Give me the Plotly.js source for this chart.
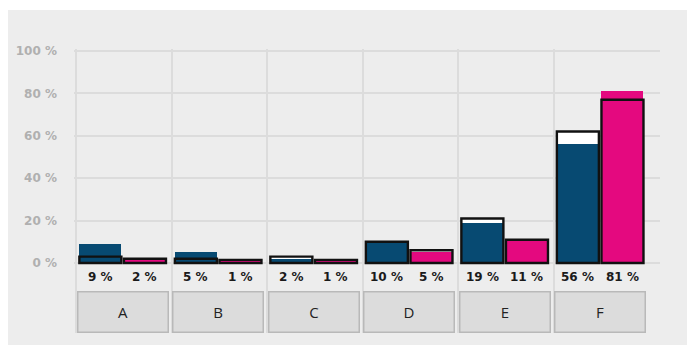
<!DOCTYPE html>
<html>
<head>
<meta charset="utf-8">
<script src="https://cdn.plot.ly/plotly-3.0.1.min.js"></script>
<style>
  html, body { margin: 0; padding: 0; background: #ffffff; }
  #chart { position: absolute; left: 8px; top: 10px; width: 679px; height: 335px; }
</style>
</head>
<body>
<div id="chart"></div>
<script>
// Categories and the two series (percent)
const categories = ['A', 'B', 'C', 'D', 'E', 'F'];
const blueValues = [9, 5, 2, 10, 19, 56];
const pinkValues = [2, 1, 1, 5, 11, 81];
// Reference levels drawn as outlined boxes
const blueOutline = [3, 2, 3, 10, 21, 62];
const pinkOutline = [2, 1.5, 1.5, 6, 11, 77];
const yTicks = [0, 20, 40, 60, 80, 100];

const BLUE = '#074a72';
const PINK = '#e4097f';
const BG = '#ededed';
const GRID = '#dcdcdc';

const idx = categories.map((_, i) => i);
const xBlue = idx.map(i => i + 0.255);
const xPink = idx.map(i => i + 0.722);
const W = 0.44;

function bar(x, y, fill, line) {
  return {
    type: 'bar', x: x, y: y, width: W,
    marker: { color: fill, line: line },
    hoverinfo: 'skip', showlegend: false
  };
}

const traces = [
  // white-filled reference boxes behind
  bar(xBlue, blueOutline, '#ffffff', { width: 0 }),
  bar(xPink, pinkOutline, '#ffffff', { width: 0 }),
  // value bars
  bar(xBlue, blueValues, BLUE, { width: 0 }),
  bar(xPink, pinkValues, PINK, { width: 0 }),
  // black outlines on top
  bar(xBlue, blueOutline, 'rgba(0,0,0,0)', { width: 2.4, color: '#111111' }),
  bar(xPink, pinkOutline, 'rgba(0,0,0,0)', { width: 2.4, color: '#111111' })
];

const labelFont = { family: 'DejaVu Sans', size: 12, color: '#1a1a1a', weight: 'bold' };
const annotations = [];
idx.forEach(i => {
  // value labels under each bar
  annotations.push({
    x: xBlue[i], y: -6.6, xref: 'x', yref: 'y', showarrow: false,
    text: blueValues[i] + ' %', font: labelFont
  });
  annotations.push({
    x: xPink[i], y: -6.6, xref: 'x', yref: 'y', showarrow: false,
    text: pinkValues[i] + ' %', font: labelFont
  });
  // category boxes
  annotations.push({
    x: i + 0.487, y: -23.3, xref: 'x', yref: 'y', showarrow: false,
    text: categories[i],
    width: 87, height: 37, borderpad: 1,
    bgcolor: '#dcdcdc', bordercolor: '#b9b9b9', borderwidth: 1.5,
    font: { family: 'Open Sans', size: 15, color: '#222222' }
  });
});

const layout = {
  width: 679, height: 335,
  margin: { l: 66, r: 27, t: 39, b: 12 },
  paper_bgcolor: BG, plot_bgcolor: BG,
  barmode: 'overlay',
  bargap: 0,
  xaxis: {
    range: [-0.021, 6.115], tickvals: idx, showticklabels: false,
    showgrid: true, gridcolor: GRID, gridwidth: 2,
    zeroline: false, showline: false, ticks: '', fixedrange: true
  },
  yaxis: {
    range: [-33.0, 100.94], tickvals: yTicks, ticktext: yTicks.map(v => v + ' %'),
    showgrid: true, gridcolor: GRID, gridwidth: 2,
    zeroline: false, showline: false, ticks: '',
    ticklabelstandoff: 16,
    tickfont: { family: 'DejaVu Sans', size: 12, color: '#b0b0b0', weight: 'bold' },
    fixedrange: true
  },
  annotations: annotations
};

Plotly.newPlot('chart', traces, layout, { displayModeBar: false, staticPlot: true });
</script>
</body>
</html>
